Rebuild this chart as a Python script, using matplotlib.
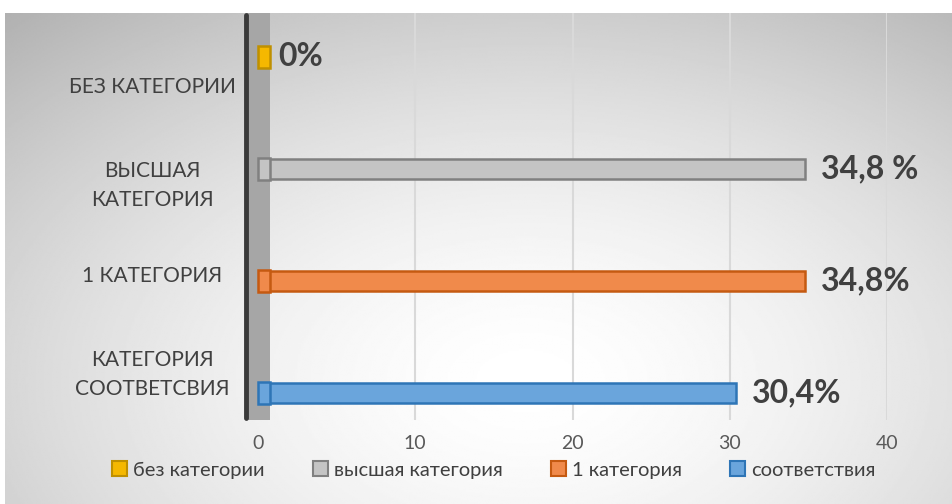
import numpy as np
import matplotlib.pyplot as plt
from matplotlib.patches import Rectangle, Patch

# data, bottom to top
categories = ["КАТЕГОРИЯ\nСООТВЕТСВИЯ", "1 КАТЕГОРИЯ", "ВЫСШАЯ\nКАТЕГОРИЯ", "БЕЗ КАТЕГОРИИ"]
series_names = ["соответствия", "1 категория", "высшая категория", "без категории"]
values = [30.4, 34.8, 34.8, 0.0]
value_labels = ["30,4%", "34,8%", "34,8 %", "0%"]

fill_colors = ["#6aa5dc", "#f08a4b", "#c4c4c4", "#f5b800"]
edge_colors = ["#2e75b6", "#c55a11", "#808080", "#bf9000"]

plt.rcParams["font.family"] = ["Lato", "DejaVu Sans"]

fig = plt.figure(figsize=(9.53, 5.04), dpi=100)

# radial grey background
bg = fig.add_axes([5 / 953, 0, 948 / 953, 491 / 504], zorder=-10)
yy, xx = np.mgrid[0:1:300j, 0:1:600j]
r = np.sqrt(((xx - 0.55) / 0.75) ** 2 + ((yy - 0.75) / 0.9) ** 2)
shade = 1.0 - 0.26 * np.clip(r, 0, 1.2) ** 1.6
bg.imshow(shade, cmap="gray", vmin=0, vmax=1, aspect="auto", extent=[0, 1, 0, 1], origin="upper")
bg.axis("off")

ax = fig.add_axes([258 / 953, 1 - 420 / 504, (887 - 258) / 953, (420 - 13) / 504])
ax.set_facecolor("none")
ax.set_xlim(0, 40)
ax.set_ylim(-0.24, 3.39)

ax.set_xticks([0, 10, 20, 30, 40])
ax.tick_params(axis="x", length=0, labelsize=14, labelcolor="#595959", pad=11)
ax.set_yticks([0.22 + i * 0.843 for i in range(len(categories))])
ax.set_yticklabels(categories, fontsize=15, color="#404040", ha="center", linespacing=1.55)
ax.tick_params(axis="y", length=0, pad=76)
for s in ax.spines.values():
    s.set_visible(False)

for xg in [10, 20, 30, 40]:
    ax.axvline(xg, color="#d9d9d9", lw=1.5, zorder=0)

# back wall of the 3d chart
ax.add_patch(Rectangle((-0.7, -0.24), 1.45, 3.63, facecolor="#a6a6a6", edgecolor="none",
                       clip_on=False, zorder=1))
ax.plot([-0.75, -0.75], [-0.22, 3.37], color="#3a3a3a", lw=3.5, solid_capstyle="round",
        clip_on=False, zorder=2)

y = np.arange(len(values))
ax.barh(y, values, height=0.18, color=fill_colors, edgecolor=edge_colors, linewidth=1.8, zorder=3)
for yi, v, fc, ec in zip(y, values, fill_colors, edge_colors):
    ax.add_patch(Rectangle((0.0, yi - 0.1), 0.75, 0.2, facecolor=fc, edgecolor=ec, lw=1.8,
                           clip_on=False, zorder=4))

for yi, v, lab in zip(y, values, value_labels):
    ax.text(v + (1.3 if v == 0 else 1.0), yi, lab, fontsize=23, fontweight="bold",
            color="#404040", va="center", ha="left", clip_on=False, zorder=5)

handles = [Patch(facecolor=fill_colors[i], edgecolor=edge_colors[i], lw=1.5) for i in [3, 2, 1, 0]]
names = [series_names[i] for i in [3, 2, 1, 0]]
fig.legend(handles, names, loc="center", bbox_to_anchor=(0.518, 1 - 470 / 504), ncol=4,
           frameon=False, fontsize=14.5, labelcolor="#404040", handlelength=0.75, handleheight=0.75,
           handletextpad=0.3, columnspacing=2.4)

fig.savefig("out.png", dpi=100)
